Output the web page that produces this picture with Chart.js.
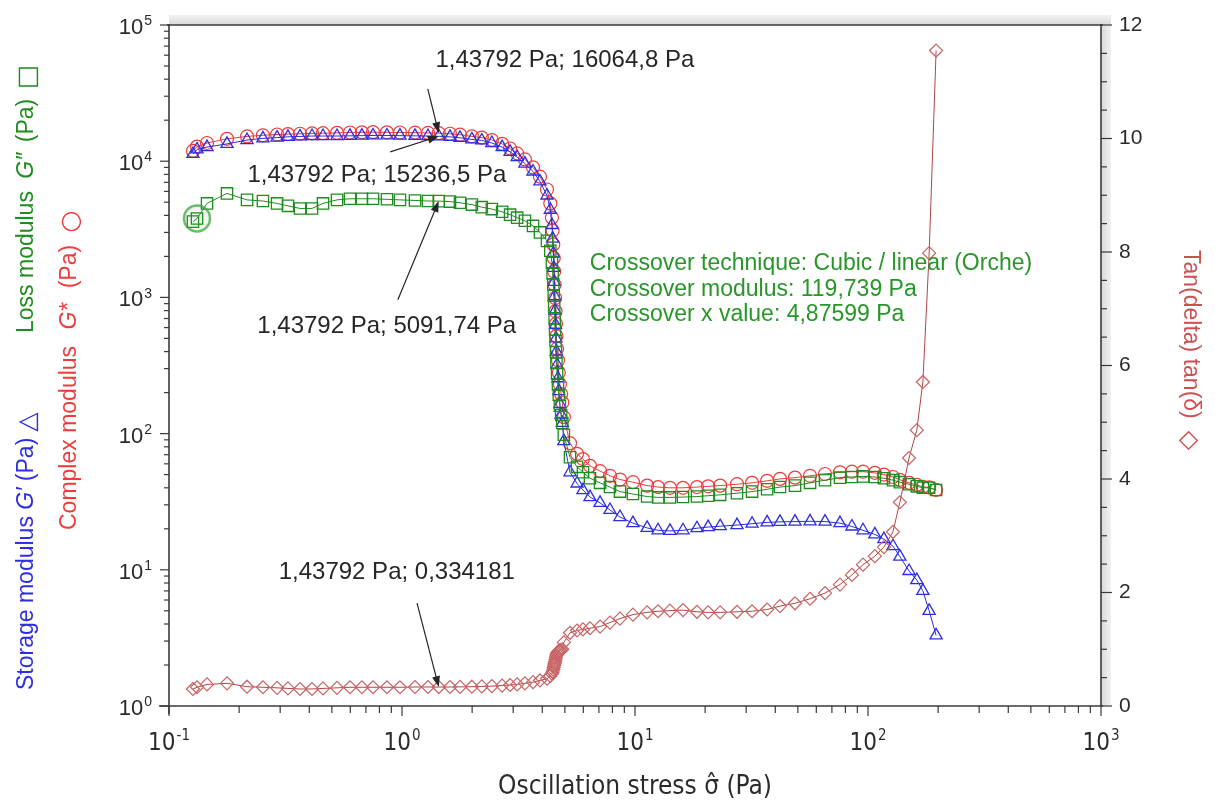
<!DOCTYPE html>
<html lang="en">
<head>
<meta charset="UTF-8" />
<title>Amplitude sweep – G′, G″, G* and tan δ</title>
<script src="https://cdn.jsdelivr.net/npm/chart.js"></script>
<style>
  body { margin: 0; background: #fff; }
  #wrap { width: 1215px; height: 805px; }
</style>
</head>
<body>
<div id="wrap"><canvas id="sweep" width="1215" height="805"></canvas></div>
<script>
// oscillation stress (Pa) – shared by every series
const stress = [
  0.1267, 0.1319, 0.1456, 0.1774, 0.2162, 0.253, 0.291, 0.324, 0.365, 0.411,
  0.458, 0.526, 0.598, 0.673, 0.751, 0.862, 0.980, 1.137, 1.293, 1.43792,
  1.607, 1.774, 1.995, 2.20, 2.43, 2.69, 2.91, 3.12, 3.37, 3.65,
  3.91, 4.19, 4.33,
  4.40, 4.43, 4.46, 4.48, 4.50, 4.52, 4.54, 4.56, 4.58, 4.60,
  4.63, 4.67, 4.71, 4.76, 4.82, 4.87599,
  4.95, 5.26, 5.64, 5.98, 6.41, 7.08, 7.81, 8.62, 9.80, 11.27,
  12.56, 14.13, 16.07, 18.45, 20.6, 23.2, 27.4, 31.8, 36.9, 41.9,
  48.6, 56.4, 65.4, 75.8, 85.3, 95.2, 107, 117, 128, 137,
  150, 162, 172, 183, 196
];

// storage modulus G' (Pa)
const storageMod = [
  11300, 12200, 12700, 13400, 14300, 14700, 14900, 15100, 15200, 15300,
  15300, 15300, 15350, 15400, 15450, 15450, 15400, 15350, 15300, 15236.5,
  15100, 14850, 14450, 14200, 13600, 12700, 11700, 10700, 9600, 8400,
  7100, 5600, 4400,
  3400, 2700, 2100, 1650, 1300, 1020, 800, 630, 500, 400,
  320, 255, 205, 165, 138, 119.739,
  88, 52, 43, 38.5, 34.2, 31, 27.5, 24.4, 22, 20.3,
  19.5, 19.3, 19.5, 20.2, 20.6, 20.9, 21.3, 21.8, 22.3, 22.5,
  22.6, 22.7, 22.6, 22, 20.8, 19.5, 18.2, 16.8, 14.9, 12.5,
  9.8, 8.4, 7.0, 5.0, 3.3
];

// loss modulus G'' (Pa)
const lossMod = [
  3600, 3800, 4900, 5800, 5200, 5100, 4900, 4700, 4500, 4500,
  4900, 5200, 5300, 5300, 5300, 5250, 5200, 5150, 5100, 5091.74,
  5050, 4950, 4800, 4600, 4450, 4250, 4050, 3850, 3650, 3350,
  3000, 2600, 2200,
  1800, 1500, 1250, 1030, 850, 700, 580, 480, 395, 330,
  275, 230, 192, 160, 137, 119.739,
  98, 67, 57, 52, 47, 43.5, 40.5, 37.5, 36, 34.5,
  34, 34, 34.2, 34.5, 35, 35.5, 36.5, 37.5, 39, 40.5,
  41.5, 43.5, 45.5, 47.5, 48, 48.5, 48, 47, 45.5, 44,
  42.5, 41, 40, 40, 38.5
];

// complex modulus G* (Pa)
const complexMod = [
  11900, 12800, 13600, 14600, 15200, 15500, 15700, 15800, 15900, 16000,
  16050, 16150, 16250, 16300, 16350, 16300, 16250, 16200, 16130, 16064.8,
  15900, 15650, 15200, 14900, 14300, 13400, 12400, 11400, 10300, 9000,
  7700, 6200, 4900,
  3850, 3100, 2450, 1950, 1550, 1240, 990, 790, 640, 520,
  420, 345, 280, 230, 195, 169,
  132, 85, 71, 65, 58, 53, 49, 46, 44, 41.5,
  40.5, 40, 40, 40.5, 41, 41.5, 42.5, 43.5, 45, 46.5,
  47.5, 49, 50.5, 52, 52.5, 52.5, 51.5, 50, 48, 45.8,
  43.5, 42, 40.6, 40.3, 38.6
];

// tan(delta)
const tanDelta = [
  0.30, 0.33, 0.38, 0.40, 0.34, 0.33, 0.32, 0.31, 0.30, 0.30,
  0.31, 0.32, 0.33, 0.33, 0.33, 0.33, 0.33, 0.335, 0.335, 0.334181,
  0.335, 0.337, 0.34, 0.345, 0.35, 0.36, 0.37, 0.38, 0.40, 0.42,
  0.45, 0.48, 0.53,
  0.57, 0.60, 0.64, 0.68, 0.72, 0.75, 0.78, 0.82, 0.86, 0.90,
  0.93, 0.95, 0.97, 0.98, 0.99, 1.00,
  1.12, 1.29, 1.33, 1.35, 1.37, 1.40, 1.47, 1.54, 1.61, 1.65,
  1.67, 1.68, 1.69, 1.66, 1.65, 1.65, 1.66, 1.67, 1.70, 1.76,
  1.81, 1.89, 1.99, 2.14, 2.31, 2.49, 2.64, 2.80, 3.07, 3.59,
  4.37, 4.86, 5.71, 7.98, 11.55
];

// axis ticks
const xDecades = [-1, 0, 1, 2, 3];
const yDecades = [0, 1, 2, 3, 4, 5];
const tanTicks = [0, 2, 4, 6, 8, 10, 12];

// cursor readout point and crossover result
const cursorStress = 1.43792;
const crossStress = 4.87599;
const crossModulus = 119.739;

const SANS = '"Liberation Sans", Arial, sans-serif';
const NARROW = '"Liberation Sans Narrow", "DejaVu Sans Condensed", "Liberation Sans", sans-serif';
const SYM = '"DejaVu Sans", sans-serif';
const BLUE = 'rgb(45,45,225)';
const GREEN = 'rgb(30,140,30)';
const RED = 'rgb(238,60,60)';
const ROSE = 'rgb(200,100,100)';

const comma = v => String(v).replace('.', ',');
const pts = ys => stress.map((s, i) => ({ x: s, y: ys[i] }));
const k = stress.indexOf(cursorStress);

// readout labels: text centre and arrow tail in data units, arrow head on the data point
const notes = [
  { text: `${comma(stress[k])} Pa; ${comma(complexMod[k])} Pa`, tx: 5.0, ty: 55000, fx: 1.29, fy: 34000, hy: complexMod[k], axis: 'y' },
  { text: `${comma(stress[k])} Pa; ${comma(storageMod[k])} Pa`, tx: 0.78, ty: 7900, fx: 0.89, fy: 11700, hy: storageMod[k], axis: 'y' },
  { text: `${comma(stress[k])} Pa; ${comma(lossMod[k])} Pa`, tx: 0.86, ty: 610, fx: 0.96, fy: 960, hy: lossMod[k], axis: 'y' },
  { text: `${comma(stress[k])} Pa; ${comma(tanDelta[k])}`, tx: 0.95, ty: 9.5, fx: 1.16, fy: 5.7, hy: tanDelta[k], axis: 'y2' }
];
const crossLines = [
  'Crossover technique: Cubic / linear (Orche)',
  `Crossover modulus: ${comma(crossModulus)} Pa`,
  `Crossover x value: ${comma(crossStress)} Pa`
];

function line(ctx, x1, y1, x2, y2) {
  ctx.beginPath(); ctx.moveTo(x1, y1); ctx.lineTo(x2, y2); ctx.stroke();
}

function arrow(ctx, x1, y1, x2, y2) {
  const a = Math.atan2(y2 - y1, x2 - x1), c = Math.cos(a), s = Math.sin(a);
  line(ctx, x1, y1, x2 - 4 * c, y2 - 4 * s);
  ctx.beginPath();
  ctx.moveTo(x2, y2);
  ctx.lineTo(x2 - 11 * c + 4 * s, y2 - 11 * s - 4 * c);
  ctx.lineTo(x2 - 11 * c - 4 * s, y2 - 11 * s + 4 * c);
  ctx.closePath(); ctx.fill();
}

// "10" with a raised exponent
function power(ctx, exp, x, y, size, expSize, family, align) {
  ctx.font = `${size}px ${family}`;
  const wb = ctx.measureText('10').width;
  ctx.font = `${expSize}px ${family}`;
  const we = ctx.measureText(exp).width;
  const total = wb + we + 1;
  const x0 = align === 'center' ? x - total / 2 : align === 'right' ? x - total : x;
  ctx.textAlign = 'left';
  ctx.textBaseline = 'alphabetic';
  ctx.font = `${size}px ${family}`;
  ctx.fillText('10', x0, y);
  ctx.font = `${expSize}px ${family}`;
  ctx.fillText(exp, x0 + wb + 1, y - size * 0.4);
}

// run of text pieces (some italic, some symbols) drawn from the current origin
function rich(ctx, parts, size, family, color) {
  let cx = 0;
  ctx.textAlign = 'left';
  ctx.textBaseline = 'middle';
  ctx.fillStyle = color;
  for (const p of parts) {
    if (p.gap) { cx += p.gap; continue; }
    const fs = p.sym ? size * 1.1 : size;
    ctx.font = `${p.it ? 'italic ' : ''}${fs}px ${p.sym ? SYM : family}`;
    ctx.fillText(p.t, cx, p.sym ? 1 : 0);
    cx += ctx.measureText(p.t).width;
  }
}

const decor = {
  id: 'decor',
  beforeDatasetsDraw(chart) {
    const { ctx, chartArea: a } = chart;
    ctx.save();
    // grey bevel along the top and right edge of the frame
    const gt = ctx.createLinearGradient(0, a.top - 10, 0, a.top);
    gt.addColorStop(0, '#f2f2f2'); gt.addColorStop(1, '#d9d9d9');
    ctx.fillStyle = gt;
    ctx.fillRect(a.left, a.top - 10, a.right - a.left + 10, 10);
    const gr = ctx.createLinearGradient(a.right, 0, a.right + 10, 0);
    gr.addColorStop(0, '#d9d9d9'); gr.addColorStop(1, '#f2f2f2');
    ctx.fillStyle = gr;
    ctx.fillRect(a.right, a.top, 10, a.bottom - a.top);
    ctx.restore();
  },
  afterDatasetsDraw(chart) {
    const { ctx } = chart;
    const sx = chart.scales.x, ly = chart.scales.y;
    ctx.save();
    ctx.fillStyle = '#262626';
    ctx.strokeStyle = '#262626';
    ctx.lineWidth = 1.2;
    ctx.font = `24px ${SANS}`;
    ctx.textAlign = 'center';
    ctx.textBaseline = 'middle';
    for (const n of notes) {
      const sy = chart.scales[n.axis];
      ctx.fillText(n.text, sx.getPixelForValue(n.tx), ly.getPixelForValue(n.ty));
      arrow(ctx, sx.getPixelForValue(n.fx), ly.getPixelForValue(n.fy),
        sx.getPixelForValue(stress[k]), sy.getPixelForValue(n.hy));
    }
    ctx.fillStyle = 'rgb(40,150,40)';
    ctx.font = `23px ${SANS}`;
    ctx.textAlign = 'left';
    const cx = sx.getPixelForValue(6.4);
    const cy = ly.getPixelForValue(1760);
    crossLines.forEach((t, i) => ctx.fillText(t, cx, cy + i * 25.5));
    ctx.restore();
  },
  afterDraw(chart) {
    const { ctx, chartArea: a } = chart;
    const sx = chart.scales.x, sy = chart.scales.y, st = chart.scales.y2;
    ctx.save();
    ctx.strokeStyle = '#3a3a3a';
    ctx.fillStyle = '#3a3a3a';
    ctx.lineWidth = 1.6;
    // frame
    line(ctx, a.left - 10, a.bottom, a.right + 2, a.bottom);
    line(ctx, a.left, a.top - 1, a.left, a.bottom + 8);
    line(ctx, a.right, a.top - 1, a.right, a.bottom);
    line(ctx, a.left - 2, a.top, a.right + 2, a.top);

    // log ticks
    ctx.lineWidth = 1.2;
    for (const d of xDecades) {
      const x = sx.getPixelForValue(10 ** d);
      line(ctx, x, a.bottom, x, a.bottom + 10);
      if (d < 3) for (let m = 2; m < 10; m++) {
        const xm = sx.getPixelForValue(m * 10 ** d);
        line(ctx, xm, a.bottom, xm, a.bottom + 7);
      }
    }
    for (const d of yDecades) {
      const y = sy.getPixelForValue(10 ** d);
      line(ctx, a.left - 9, y, a.left, y);
      if (d < 5) for (let m = 2; m < 10; m++) {
        const ym = sy.getPixelForValue(m * 10 ** d);
        line(ctx, a.left - 5, ym, a.left, ym);
      }
    }
    for (let v = 0; v <= 12; v += 0.5) {
      const y = st.getPixelForValue(v);
      line(ctx, a.right, y, a.right + (v % 2 === 0 ? 11 : 6), y);
    }

    // tick labels
    ctx.fillStyle = '#2b2b2b';
    for (const d of xDecades) {
      power(ctx, String(d), sx.getPixelForValue(10 ** d), a.bottom + 44, 24, 15, NARROW, 'center');
    }
    for (const d of yDecades) {
      power(ctx, String(d), a.left - 17, sy.getPixelForValue(10 ** d) + 9, 22, 14, SANS, 'right');
    }
    ctx.font = `21px ${SANS}`;
    ctx.textAlign = 'left';
    ctx.textBaseline = 'middle';
    for (const v of tanTicks) ctx.fillText(String(v), a.right + 18, st.getPixelForValue(v));

    // axis titles
    ctx.font = `26px ${NARROW}`;
    ctx.textAlign = 'center';
    ctx.textBaseline = 'alphabetic';
    ctx.fillText('Oscillation stress σ̂ (Pa)', (a.left + a.right) / 2, 794);

    ctx.save();
    ctx.translate(27, 690); ctx.rotate(-Math.PI / 2);
    rich(ctx, [{ t: 'Storage modulus ' }, { t: 'G′', it: true }, { t: ' (Pa)' }, { gap: 6 }, { t: '△', sym: true }], 23, SANS, BLUE);
    ctx.restore();
    ctx.save();
    ctx.translate(27, 333); ctx.rotate(-Math.PI / 2);
    rich(ctx, [{ t: 'Loss modulus ' }, { gap: 6 }, { t: 'G″', it: true }, { gap: 4 }, { t: ' (Pa)' }, { gap: 10 }, { t: '□', sym: true }], 23, SANS, GREEN);
    ctx.restore();
    ctx.save();
    ctx.translate(70, 530); ctx.rotate(-Math.PI / 2);
    rich(ctx, [{ t: 'Complex modulus ' }, { gap: 10 }, { t: 'G*', it: true }, { gap: 8 }, { t: ' (Pa)' }, { gap: 12 }, { t: '○', sym: true }], 23, SANS, RED);
    ctx.restore();
    ctx.save();
    ctx.translate(1190, 250); ctx.rotate(Math.PI / 2);
    rich(ctx, [{ t: 'Tan(delta) tan(δ)' }, { gap: 12 }, { t: '◇', sym: true }], 23, SANS, 'rgb(205,80,80)');
    ctx.restore();

    ctx.restore();
  }
};

const hollow = 'rgba(0,0,0,0)';

new Chart(document.getElementById('sweep'), {
  type: 'line',
  data: {
    datasets: [
      {
        label: 'cursor',
        data: [{ x: stress[1], y: lossMod[1] }],
        yAxisID: 'y',
        showLine: false,
        pointStyle: 'circle',
        pointRadius: 13,
        pointBorderWidth: 2.5,
        pointBorderColor: 'rgba(60,165,60,0.75)',
        pointBackgroundColor: 'rgba(60,165,60,0.08)',
        order: 0
      },
      {
        label: 'tan δ',
        data: pts(tanDelta),
        yAxisID: 'y2',
        borderColor: 'rgb(175,70,70)',
        borderWidth: 1,
        pointStyle: 'rectRot',
        pointRadius: 6.5,
        pointBorderWidth: 1.2,
        pointBorderColor: ROSE,
        pointBackgroundColor: hollow,
        order: 1
      },
      {
        label: 'Loss modulus G″',
        data: pts(lossMod),
        yAxisID: 'y',
        borderColor: GREEN,
        borderWidth: 1,
        pointStyle: 'rect',
        pointRadius: 8,
        pointBorderWidth: 1.3,
        pointBorderColor: GREEN,
        pointBackgroundColor: hollow,
        order: 2
      },
      {
        label: 'Storage modulus G′',
        data: pts(storageMod),
        yAxisID: 'y',
        borderColor: BLUE,
        borderWidth: 1,
        pointStyle: 'triangle',
        pointRadius: 7,
        pointBorderWidth: 1.3,
        pointBorderColor: BLUE,
        pointBackgroundColor: hollow,
        order: 3
      },
      {
        label: 'Complex modulus G*',
        data: pts(complexMod),
        yAxisID: 'y',
        borderColor: RED,
        borderWidth: 1,
        pointStyle: 'circle',
        pointRadius: 6.5,
        pointBorderWidth: 1.2,
        pointBorderColor: RED,
        pointBackgroundColor: hollow,
        order: 4
      }
    ]
  },
  options: {
    responsive: false,
    animation: false,
    devicePixelRatio: 1,
    layout: { padding: { top: 25, left: 0, right: 0, bottom: 0 } },
    plugins: { legend: { display: false }, tooltip: { enabled: false } },
    elements: { line: { tension: 0 } },
    scales: {
      x: {
        type: 'logarithmic', min: 0.1, max: 1000, position: 'bottom',
        grid: { display: false, drawTicks: false }, border: { display: false },
        ticks: { display: false },
        afterFit(s) { s.height = 99; }
      },
      y: {
        type: 'logarithmic', min: 1, max: 100000, position: 'left',
        grid: { display: false, drawTicks: false }, border: { display: false },
        ticks: { display: false },
        afterFit(s) { s.width = 169; }
      },
      y2: {
        type: 'linear', min: 0, max: 12, position: 'right',
        grid: { display: false, drawTicks: false }, border: { display: false },
        ticks: { display: false },
        afterFit(s) { s.width = 114; }
      }
    }
  },
  plugins: [decor]
});
</script>
</body>
</html>
